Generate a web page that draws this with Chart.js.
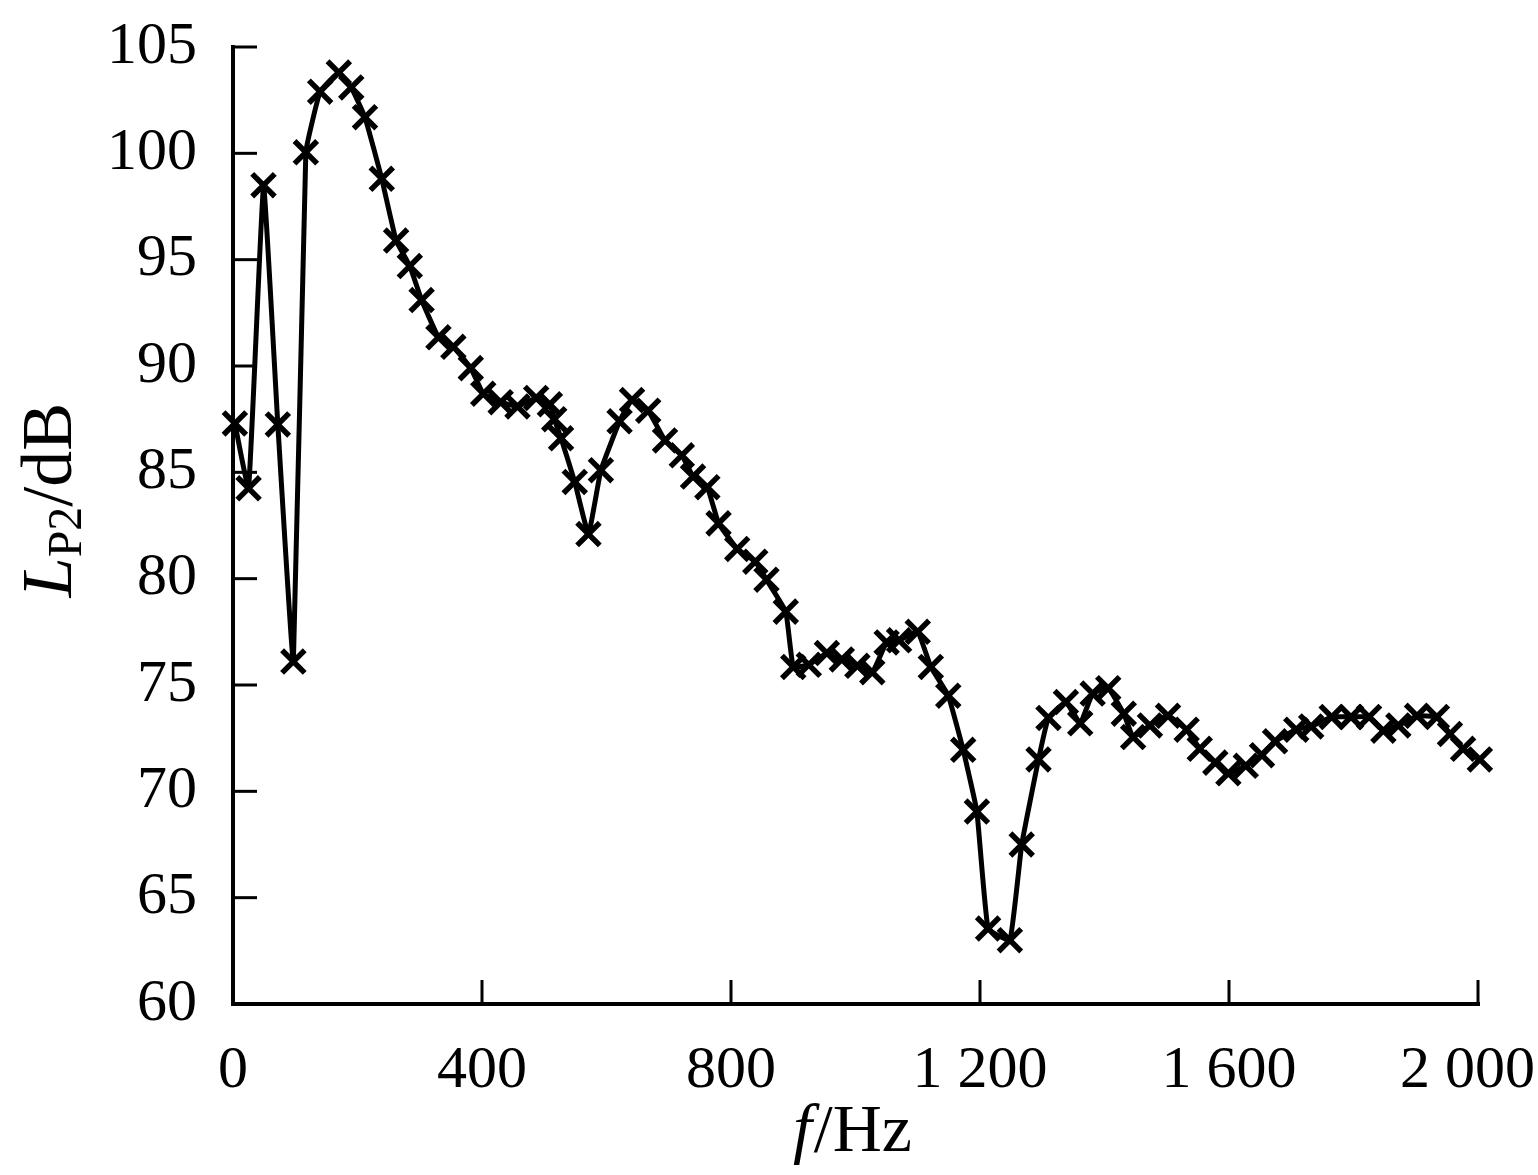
<!DOCTYPE html>
<html>
<head>
<meta charset="utf-8">
<script src="https://cdn.jsdelivr.net/npm/chart.js@4.4.0/dist/chart.umd.min.js"></script>
<style>
html,body{margin:0;padding:0;background:#ffffff;}
#wrap{width:1538px;height:1175px;position:relative;}
canvas{display:block;}
</style>
</head>
<body>
<div id="wrap"><canvas id="c" width="1538" height="1175"></canvas></div>
<script>
// ---- data ----
const frequencyHz = [
  3, 25, 49, 72, 97, 117, 140, 170, 190, 212,
  239, 262, 284, 303, 330, 354, 382, 402, 430, 457,
  487, 509, 516, 527, 549, 571, 591, 621, 641, 667,
  694, 721, 739, 762, 780, 810, 839, 857, 888, 900,
  925, 954, 978, 1003, 1027, 1050, 1070, 1100, 1121, 1149,
  1173, 1195, 1213, 1248, 1267, 1294, 1310, 1338, 1361, 1381,
  1406, 1431, 1446, 1473, 1502, 1532, 1553, 1578, 1599, 1627,
  1653, 1674, 1708, 1732, 1765, 1796, 1825, 1848, 1872, 1902,
  1934, 1955, 1976, 2003
];
const levelDb = [
  87.3, 84.25, 98.5, 87.25, 76.1, 100.05, 102.9, 103.8, 103.1, 101.7,
  98.8, 95.9, 94.7, 93.1, 91.35, 90.9, 89.9, 88.7, 88.3, 88.1,
  88.5, 88.2, 87.5, 86.6, 84.55, 82.1, 85.1, 87.4, 88.4, 87.9,
  86.5, 85.8, 84.8, 84.3, 82.6, 81.4, 80.8, 79.95, 78.45, 75.85,
  75.95, 76.5, 76.2, 75.9, 75.6, 77.0, 77.1, 77.5, 75.85, 74.5,
  71.95, 69.05, 63.55, 63.0, 67.5, 71.5, 73.45, 74.2, 73.2, 74.6,
  74.85, 73.65, 72.55, 73.1, 73.55, 72.9, 72.0, 71.35, 70.85, 71.2,
  71.7, 72.35, 72.9, 73.05, 73.5, 73.5, 73.5, 72.85, 73.1, 73.55,
  73.5, 72.7, 72.0, 71.5
];
const xTickValues = [0, 400, 800, 1200, 1600, 2000];
const xTickLabels = ['0', '400', '800', '1 200', '1 600', '2 000'];
const yTickValues = [60, 65, 70, 75, 80, 85, 90, 95, 100, 105];

const xMin = 0, xMax = 2000, yMin = 60, yMax = 105;
const FONT = '"Liberation Serif", "Times New Roman", serif';

const points = frequencyHz.map((f, i) => ({ x: f, y: levelDb[i] }));

const axesPlugin = {
  id: 'axesPlugin',
  afterDatasetsDraw(chart) {
    const ctx = chart.ctx;
    const xs = chart.scales.x, ys = chart.scales.y;
    const left = xs.getPixelForValue(xMin), right = xs.getPixelForValue(xMax);
    const top = ys.getPixelForValue(yMax), bottom = ys.getPixelForValue(yMin);
    ctx.save();
    ctx.strokeStyle = '#000';
    ctx.fillStyle = '#000';
    // axis lines
    ctx.lineWidth = 4;
    ctx.lineCap = 'square';
    ctx.beginPath();
    ctx.moveTo(left, top);
    ctx.lineTo(left, bottom);
    ctx.lineTo(right, bottom);
    ctx.stroke();
    // inward tick marks
    ctx.lineWidth = 3;
    ctx.lineCap = 'butt';
    const tl = 24;
    yTickValues.forEach(v => {
      const y = ys.getPixelForValue(v);
      ctx.beginPath(); ctx.moveTo(left, y); ctx.lineTo(left + tl, y); ctx.stroke();
    });
    xTickValues.forEach(v => {
      const x = xs.getPixelForValue(v);
      ctx.beginPath(); ctx.moveTo(x, bottom); ctx.lineTo(x, bottom - tl); ctx.stroke();
    });
    // x tick labels
    ctx.font = '60px ' + FONT;
    ctx.textAlign = 'center';
    ctx.textBaseline = 'alphabetic';
    xTickValues.forEach((v, i) => {
      let x = xs.getPixelForValue(v);
      const w = ctx.measureText(xTickLabels[i]).width;
      if (x + w / 2 > chart.width - 3) x = chart.width - 3 - w / 2;
      ctx.fillText(xTickLabels[i], x, bottom + 83);
    });
    // x title: f/Hz
    ctx.textAlign = 'left';
    const fItalic = 'italic 68px ' + FONT, fReg = '68px ' + FONT;
    ctx.font = fItalic; const wf = ctx.measureText('f').width;
    ctx.font = fReg; const wr = ctx.measureText('/Hz').width;
    const cx = (left + right) / 2 - 4;
    let sx = cx - (wf + wr) / 2;
    const by = bottom + 147;
    ctx.font = fItalic; ctx.fillText('f', sx, by);
    ctx.font = fReg; ctx.fillText('/Hz', sx + wf + 2, by);
    // y title: L_P2/dB
    ctx.translate(71, 500);
    ctx.rotate(-Math.PI / 2);
    const lF = 'italic 72px ' + FONT, sF = '48px ' + FONT, dF = '72px ' + FONT;
    ctx.font = lF; const wL = ctx.measureText('L').width;
    ctx.font = sF; const wS = ctx.measureText('P2').width;
    ctx.font = dF; const wD = ctx.measureText('/dB').width;
    let tx = -(wL + wS + wD) / 2;
    ctx.font = lF; ctx.fillText('L', tx, 0); tx += wL;
    ctx.font = sF; ctx.fillText('P2', tx, 10); tx += wS;
    ctx.font = dF; ctx.fillText('/dB', tx, 0);
    ctx.restore();
  }
};

new Chart(document.getElementById('c'), {
  type: 'line',
  data: {
    datasets: [{
      data: points,
      borderColor: '#000',
      backgroundColor: '#000',
      borderWidth: 5,
      tension: 0.1,
      pointStyle: 'crossRot',
      pointRadius: 16,
      pointBorderWidth: 5.5,
      pointBorderColor: '#000',
      pointHoverRadius: 16,
      clip: false
    }]
  },
  options: {
    responsive: false,
    animation: false,
    devicePixelRatio: 1,
    layout: { padding: { top: 47, right: 60, left: 0, bottom: 0 } },
    plugins: { legend: { display: false }, tooltip: { enabled: false } },
    scales: {
      x: {
        type: 'linear',
        min: xMin, max: xMax,
        grid: { display: false, drawTicks: false },
        border: { display: false },
        ticks: { display: false, stepSize: 400 },
        afterFit(s) { s.height = 171; s.paddingLeft = 0; s.paddingRight = 0; }
      },
      y: {
        type: 'linear',
        min: yMin, max: yMax,
        grid: { display: false, drawTicks: false },
        border: { display: false },
        ticks: {
          stepSize: 5,
          padding: 36,
          color: '#000',
          font: { family: '"Liberation Serif", "Times New Roman", serif', size: 60 },
          callback: (v) => String(v)
        },
        afterFit(s) { s.width = 233; s.paddingTop = 0; s.paddingBottom = 0; }
      }
    }
  },
  plugins: [axesPlugin]
});
</script>
</body>
</html>
